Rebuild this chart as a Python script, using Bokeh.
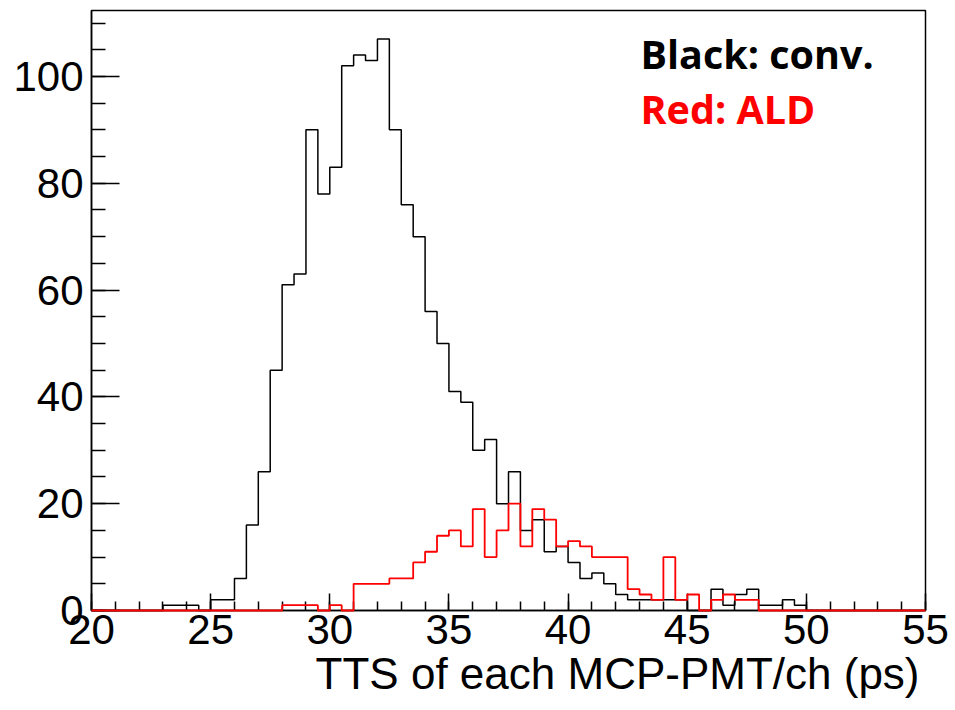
import numpy as np
from bokeh.plotting import figure
from bokeh.models import Range1d, SingleIntervalTicker, Label, Title
from bokeh.embed import file_html
from bokeh.resources import INLINE

# ---- data (counts per 0.5 ps bin, from 20 to 55 ps) ----
bin_low = 20.0
bin_width = 0.5
conv_counts = [0, 0, 0, 0, 0, 0, 1, 1, 1, 0, 2, 2,
               6, 16, 26, 45, 61, 63, 90, 78, 83, 102, 104, 103, 107, 90,
               76, 70, 56, 50, 41, 39, 30, 32, 20, 26, 15, 17, 11, 12, 9,
               6, 7, 5, 3, 2, 2, 2, 2, 2, 0, 0, 4, 1, 3, 4, 1, 1, 2, 1,
               0, 0, 0, 0, 0, 0, 0, 0, 0, 0]
ald_counts = [0, 0, 0, 0, 0, 0, 0, 0, 0, 0, 0, 0, 0, 0, 0, 0,
              1, 1, 1, 0, 1, 0, 5, 5, 5, 6, 6, 9, 11, 14, 15, 12, 19, 10,
              15, 20, 12, 19, 17, 12, 13, 12, 10, 10, 10, 4, 3, 2, 10, 2,
              3, 0, 2, 3, 2, 2,
              0, 0, 0, 0, 0, 0, 0, 0, 0, 0, 0, 0, 0, 0]
x_tick_labels = ["20", "25", "30", "35", "40", "45", "50", "55"]
y_tick_labels = ["0", "20", "40", "60", "80", "100"]
x_title = "TTS of each MCP-PMT/ch (ps)"
legend_texts = ["Black: conv.", "Red: ALD"]

n_bins = len(conv_counts)
edges = bin_low + bin_width * np.arange(n_bins + 1)
x_max = float(edges[-1])
y_max = 1.05 * max(conv_counts)

W, H = 955, 710
L, R, T, B = 91, 30, 10, 100

p = figure(width=W, height=H, output_backend="svg", toolbar_location=None,
           x_range=Range1d(bin_low, x_max), y_range=Range1d(0, y_max),
           min_border_left=L, min_border_right=R, min_border_top=T,
           min_border_bottom=B)
p.background_fill_color = "white"
p.border_fill_color = "white"
p.outline_line_color = "black"
p.outline_line_width = 1.5
p.xgrid.visible = False
p.ygrid.visible = False

font = "Liberation Sans"
p.xaxis.ticker = SingleIntervalTicker(interval=5, num_minor_ticks=5)
p.yaxis.ticker = SingleIntervalTicker(interval=20, num_minor_ticks=4)
for ax in (p.xaxis, p.yaxis):
    ax.axis_line_color = "black"
    ax.axis_line_width = 1.5
    ax.major_tick_line_color = "black"
    ax.minor_tick_line_color = "black"
    ax.major_tick_line_width = 1.5
    ax.minor_tick_line_width = 1.5
    ax.major_tick_out = 0
    ax.minor_tick_out = 0
    ax.major_label_text_font = font
    ax.major_label_text_font_size = "42px"
    ax.major_label_text_color = "black"
p.xaxis.major_tick_in = 17
p.xaxis.minor_tick_in = 9
p.yaxis.major_tick_in = 28
p.yaxis.minor_tick_in = 14
p.xaxis.major_label_standoff = 4
p.yaxis.major_label_standoff = 8

# x-axis title, right-aligned at the end of the axis (ROOT style)
p.add_layout(Title(text=x_title, align="right", offset=6, standoff=0,
                   text_font=font, text_font_size="44px", text_font_style="normal",
                   text_color="black"), "below")

conv_y = list(conv_counts) + [conv_counts[-1]]
ald_y = list(ald_counts) + [ald_counts[-1]]
r1 = p.step(x=edges, y=conv_y, mode="after", line_color="black", line_width=1.5)
r2 = p.step(x=edges, y=ald_y, mode="after", line_color="#ff0000", line_width=1.8)
r1.level = "overlay"
r2.level = "overlay"

SH = 16  # vertical correction for label placement

p.add_layout(Label(x=549, y=541 + SH, x_units="screen", y_units="screen",
                   text=legend_texts[0], text_font="Open Sans", text_font_style="bold",
                   text_font_size="39.5px", text_color="black", text_baseline="alphabetic"))
p.add_layout(Label(x=549, y=486 + SH, x_units="screen", y_units="screen",
                   text=legend_texts[1], text_font="Open Sans", text_font_style="bold",
                   text_font_size="39.5px", text_color="#ff0000", text_baseline="alphabetic"))

open("out.html", "w").write(file_html(p, INLINE))
